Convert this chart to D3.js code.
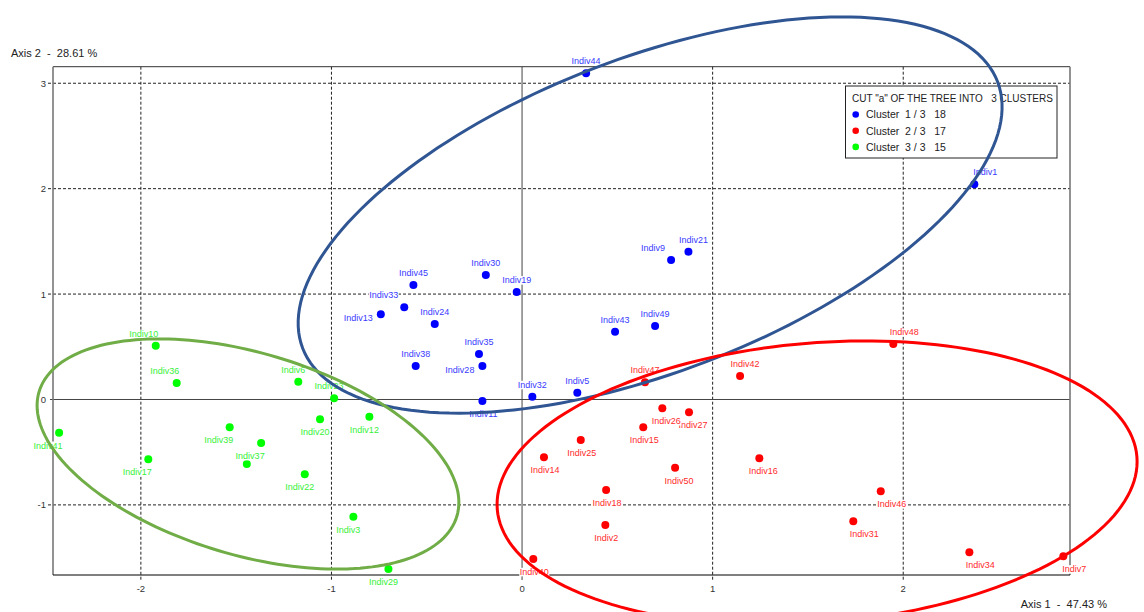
<!DOCTYPE html>
<html>
<head>
<meta charset="utf-8">
<script src="https://cdn.jsdelivr.net/npm/d3@7/dist/d3.min.js"></script>
<style>
  html, body { margin: 0; padding: 0; background: #fff; }
  svg { display: block; font-family: "Liberation Sans", Arial, sans-serif; }
  text { white-space: pre; }
</style>
</head>
<body>
<svg id="chart" width="1144" height="612"></svg>
<script>
// ---- data -------------------------------------------------------------
// Individuals of cluster 1 (blue)
const names1 = ["Indiv44","Indiv1","Indiv21","Indiv9","Indiv43","Indiv49","Indiv30","Indiv19","Indiv45","Indiv33","Indiv13","Indiv24","Indiv35","Indiv28","Indiv38","Indiv11","Indiv32","Indiv5"];
const axis1_c1 = [0.336, 2.373, 0.873, 0.782, 0.488, 0.698, -0.190, -0.028, -0.570, -0.618, -0.741, -0.458, -0.226, -0.208, -0.558, -0.208, 0.054, 0.290];
const axis2_c1 = [3.095, 2.042, 1.402, 1.324, 0.643, 0.697, 1.181, 1.020, 1.086, 0.875, 0.808, 0.716, 0.432, 0.318, 0.318, -0.014, 0.027, 0.065];
const place1 = ["n","ne","n+","nw","n","n","n","n","n","nw","w","n","n","w","n","s","n","n"];

// Individuals of cluster 2 (red)
const names2 = ["Indiv47","Indiv27","Indiv26","Indiv15","Indiv25","Indiv14","Indiv50","Indiv18","Indiv2","Indiv40","Indiv48","Indiv42","Indiv16","Indiv46","Indiv31","Indiv34","Indiv7"];
const axis1_c2 = [0.645, 0.876, 0.736, 0.636, 0.308, 0.115, 0.803, 0.441, 0.437, 0.059, 1.948, 1.144, 1.245, 1.882, 1.738, 2.347, 2.840];
const axis2_c2 = [0.163, -0.121, -0.083, -0.264, -0.384, -0.548, -0.647, -0.859, -1.191, -1.513, 0.527, 0.223, -0.558, -0.871, -1.156, -1.450, -1.488];
const place2 = ["n","s+","s+","s","s","s","s+","s","s","s","ne","n+","s+","se","se","se","se"];

// Individuals of cluster 3 (green); Indiv4 carries no printed label
const names3 = ["Indiv10","Indiv36","Indiv41","Indiv17","Indiv39","Indiv4","Indiv37","Indiv6","Indiv23","Indiv20","Indiv12","Indiv22","Indiv3","Indiv29"];
const axis1_c3 = [-1.922, -1.812, -2.429, -1.961, -1.534, -1.444, -1.369, -1.174, -0.986, -1.060, -0.801, -1.140, -0.885, -0.701];
const axis2_c3 = [0.510, 0.157, -0.315, -0.567, -0.264, -0.612, -0.413, 0.169, 0.011, -0.188, -0.163, -0.710, -1.112, -1.608];
const place3 = ["nl","nl","sl","sl","sl","none","sl","n-","n-","s-","s-","s-","s-","s-"];

// Cluster summary shown in the legend
const legendTitle = "CUT \"a\" OF THE TREE INTO   3 CLUSTERS";
const clusterLabels = ["Cluster  1 / 3", "Cluster  2 / 3", "Cluster  3 / 3"];
const clusterCounts = [18, 17, 15];

// Cluster ellipses: centre and two conjugate semi-diameters, in factor units
const ellipseCenters = [[0.672, 1.750], [1.548, -0.792], [-1.438, -0.517]];
const ellipseU = [[1.823, 1.264], [1.678, 0.250], [1.096, -0.591]];
const ellipseV = [[0.295, -1.391], [0.060, -1.324], [-0.152, -0.918]];

// Axes
const xTicks = [-2, -1, 0, 1, 2];
const yTicks = [-1, 0, 1, 2, 3];
const xTitle = "Axis 1  -  47.43 %";
const yTitle = "Axis 2  -  28.61 %";

// ---- styling ----------------------------------------------------------
const dotColors = ["#0000ff", "#ff0000", "#00ff00"];
const textColors = ["#3a3aff", "#ff2b2b", "#38f038"];
const ellipseColors = ["#2f5593", "#ff0000", "#70ad47"];

// ---- scales -----------------------------------------------------------
const x = d3.scaleLinear().domain([-2.461, 2.875]).range([53, 1070]);
const y = d3.scaleLinear().domain([-1.665, 3.157]).range([575, 66.7]);

const svg = d3.select("#chart");
const [x0, x1] = x.range();
const [yb, yt] = y.range();

// ---- grid and frame ---------------------------------------------------
const grid = svg.append("g");
xTicks.filter(v => v !== 0).forEach(v => {
  grid.append("line")
    .attr("x1", x(v)).attr("x2", x(v))
    .attr("y1", yt).attr("y2", yb + 5)
    .attr("stroke", "#222").attr("stroke-width", 1)
    .attr("stroke-dasharray", "3,2");
});
yTicks.filter(v => v !== 0).forEach(v => {
  grid.append("line")
    .attr("x1", x0 - 5).attr("x2", x1)
    .attr("y1", y(v)).attr("y2", y(v))
    .attr("stroke", "#222").attr("stroke-width", 1)
    .attr("stroke-dasharray", "3,2");
});
// zero axes
grid.append("line").attr("x1", x(0)).attr("x2", x(0)).attr("y1", yt).attr("y2", yb + 5)
  .attr("stroke", "#444").attr("stroke-width", 1);
grid.append("line").attr("x1", x0 - 3).attr("x2", x1).attr("y1", y(0)).attr("y2", y(0))
  .attr("stroke", "#444").attr("stroke-width", 1);

// frame
grid.append("line").attr("x1", x0).attr("x2", x1).attr("y1", yt).attr("y2", yt)
  .attr("stroke", "#333").attr("stroke-width", 1);
grid.append("line").attr("x1", x0).attr("x2", x0).attr("y1", yt).attr("y2", yb)
  .attr("stroke", "#777").attr("stroke-width", 1.6);
grid.append("line").attr("x1", x1).attr("x2", x1).attr("y1", yt).attr("y2", yb)
  .attr("stroke", "#777").attr("stroke-width", 1.6);
grid.append("line").attr("x1", x0).attr("x2", x1).attr("y1", yb).attr("y2", yb)
  .attr("stroke", "#000").attr("stroke-width", 1);

// tick labels
const tickFont = 9.5;
svg.append("g").selectAll("text").data(xTicks).join("text")
  .attr("x", d => x(d)).attr("y", yb + 16.5)
  .attr("text-anchor", "middle").attr("font-size", tickFont).attr("fill", "#333")
  .text(d => d);
svg.append("g").selectAll("text").data(yTicks).join("text")
  .attr("x", x0 - 7).attr("y", d => y(d) + 3.5)
  .attr("text-anchor", "end").attr("font-size", tickFont).attr("fill", "#333")
  .text(d => d);

// axis titles
svg.append("text").attr("x", 11).attr("y", 56.5).attr("font-size", 11).attr("fill", "#222").text(yTitle);
svg.append("text").attr("x", 1107).attr("y", 607.5).attr("text-anchor", "end")
  .attr("font-size", 11).attr("fill", "#222").text(xTitle);

// ---- individuals ------------------------------------------------------
const clusters = [
  { names: names1, xs: axis1_c1, ys: axis2_c1, place: place1 },
  { names: names2, xs: axis1_c2, ys: axis2_c2, place: place2 },
  { names: names3, xs: axis1_c3, ys: axis2_c3, place: place3 }
];

// label offsets around a dot, per placement code
const offsets = {
  "n":  { dx: 0,   dy: -12,  anchor: "middle" },
  "n+": { dx: 5,   dy: -12,  anchor: "middle" },
  "ne": { dx: 11,  dy: -12,  anchor: "middle" },
  "n-": { dx: -5,  dy: -12,  anchor: "middle" },
  "nl": { dx: -12, dy: -12,  anchor: "middle" },
  "nw": { dx: -6,  dy: -12,  anchor: "end" },
  "s":  { dx: 1,   dy: 12.7, anchor: "middle" },
  "s+": { dx: 4,   dy: 12.7, anchor: "middle" },
  "se": { dx: 11,  dy: 12.7, anchor: "middle" },
  "s-": { dx: -5,  dy: 12.7, anchor: "middle" },
  "sl": { dx: -11, dy: 12.7, anchor: "middle" },
  "w":  { dx: -8,  dy: 3.5,  anchor: "end" }
};

const pts = svg.append("g");
clusters.forEach((c, ci) => {
  c.names.forEach((name, i) => {
    const cx = x(c.xs[i]), cy = y(c.ys[i]);
    const g = pts.append("g");
    g.append("circle").attr("cx", cx).attr("cy", cy).attr("r", 4)
      .attr("fill", dotColors[ci]);
    const o = offsets[c.place[i]];
    if (!o) return;
    const t = g.append("text")
      .attr("x", cx + o.dx).attr("y", cy + o.dy)
      .attr("dy", "0.35em")
      .attr("text-anchor", o.anchor)
      .attr("font-size", 9)
      .attr("fill", textColors[ci])
      .text(name);
    const bb = t.node().getBBox();
    g.insert("rect", "text")
      .attr("x", bb.x - 0.5).attr("y", bb.y + 1)
      .attr("width", bb.width + 1).attr("height", bb.height - 1.5)
      .attr("fill", "#fff");
  });
});

// ---- legend -----------------------------------------------------------
const lg = svg.append("g");
lg.append("rect").attr("x", 845.5).attr("y", 86).attr("width", 211.5).attr("height", 72)
  .attr("fill", "#fff").attr("stroke", "#222").attr("stroke-width", 1);
lg.append("text").attr("x", 852).attr("y", 101.5).attr("font-size", 10).attr("fill", "#222")
  .text(legendTitle);
clusterLabels.forEach((lab, i) => {
  const ly = 114.5 + i * 16.2;
  lg.append("circle").attr("cx", 855.7).attr("cy", ly).attr("r", 3.3).attr("fill", dotColors[i]);
  lg.append("text").attr("x", 866).attr("y", ly + 3.8).attr("font-size", 10.5).attr("fill", "#222")
    .text(lab + "   " + clusterCounts[i]);
});

// ---- cluster ellipses -------------------------------------------------
const line = d3.line().x(p => x(p[0])).y(p => y(p[1])).curve(d3.curveLinearClosed);
ellipseCenters.forEach((c, i) => {
  const u = ellipseU[i], v = ellipseV[i];
  const ring = d3.range(0, 360, 2).map(a => {
    const t = a * Math.PI / 180;
    return [c[0] + u[0] * Math.cos(t) + v[0] * Math.sin(t),
            c[1] + u[1] * Math.cos(t) + v[1] * Math.sin(t)];
  });
  svg.append("path").attr("d", line(ring))
    .attr("fill", "none").attr("stroke", ellipseColors[i]).attr("stroke-width", 3);
});
</script>
</body>
</html>
